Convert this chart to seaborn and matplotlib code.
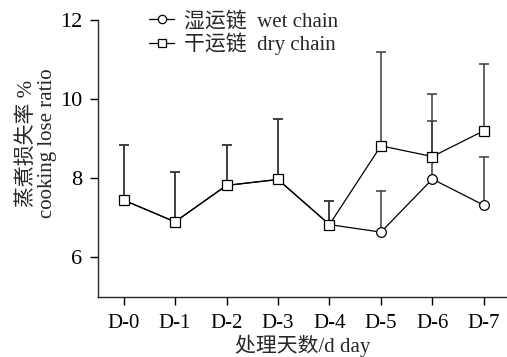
import numpy as np
import pandas as pd
import matplotlib
matplotlib.use("Agg")
import matplotlib.pyplot as plt
import seaborn as sns

days = ["D-0", "D-1", "D-2", "D-3", "D-4", "D-5", "D-6", "D-7"]
wet_mean = [7.45, 6.90, 7.82, 7.97, 6.83, 6.64, 7.98, 7.32]
wet_err = [1.40, 1.27, 1.03, 1.53, 0.59, 1.03, 1.47, 1.22]
dry_mean = [7.45, 6.90, 7.82, 7.97, 6.83, 8.82, 8.55, 9.20]
dry_err = [1.40, 1.27, 1.03, 1.53, 0.59, 2.37, 1.58, 1.69]
wet_label = "湿运链  wet chain"
dry_label = "干运链  dry chain"


def build_frame():
    x = np.arange(len(days))
    wet = pd.DataFrame({"day": x, "value": wet_mean, "chain": wet_label})
    dry = pd.DataFrame({"day": x, "value": dry_mean, "chain": dry_label})
    return pd.concat([wet, dry], ignore_index=True)


def cooking_loss_chart():
    sns.set_style("ticks")
    plt.rcParams["font.family"] = ["Liberation Serif", "Noto Sans CJK SC"]
    plt.rcParams["axes.linewidth"] = 1.0

    fig = plt.figure(figsize=(5.07, 3.57), dpi=100)
    ax = fig.add_axes([0.193, 0.168, 0.807, 0.776])

    x = np.arange(len(days))
    # one-sided (upward) error bars
    ax.errorbar(x, wet_mean, yerr=[np.zeros(len(x)), wet_err], fmt="none",
                ecolor="#3a3a3a", elinewidth=1.1, capsize=3.5, capthick=1.1, zorder=1)
    ax.errorbar(x, dry_mean, yerr=[np.zeros(len(x)), dry_err], fmt="none",
                ecolor="#3a3a3a", elinewidth=1.1, capsize=3.5, capthick=1.1, zorder=1)

    df = build_frame()
    sns.lineplot(data=df, x="day", y="value", hue="chain", style="chain",
                 hue_order=[wet_label, dry_label], style_order=[wet_label, dry_label],
                 palette=["black", "black"], markers=["o", "s"], dashes=False,
                 markersize=7, markerfacecolor="white", markeredgecolor="black",
                 markeredgewidth=0.9, linewidth=0.9, ax=ax, zorder=3)

    ax.set_xlim(-0.5, 7.45)
    ax.set_ylim(5, 12)
    ax.set_yticks([6, 8, 10, 12])
    ax.set_xticks(x)
    ax.set_xticklabels(days)
    ax.tick_params(length=6, width=1.0, colors="black", direction="out")
    ax.tick_params(axis="y", labelsize=16, pad=5)
    ax.tick_params(axis="x", labelsize=15, pad=6)
    sns.despine(ax=ax)

    ax.set_xlabel("处理天数/d day", fontsize=15)
    ax.xaxis.set_label_coords(0.5, -0.135)
    ax.set_ylabel("蒸煮损失率 %\ncooking lose ratio", fontsize=15,
                  linespacing=1.05)
    ax.yaxis.set_label_coords(-0.1, 0.556)

    leg = ax.legend(loc="upper left", bbox_to_anchor=(0.105, 1.06), frameon=False,
                    fontsize=15, handlelength=1.2, handletextpad=0.45,
                    labelspacing=0.05, borderaxespad=0)
    for h in leg.legend_handles:
        h.set_markersize(6)

    fig.savefig("out.png", dpi=100)


cooking_loss_chart()
